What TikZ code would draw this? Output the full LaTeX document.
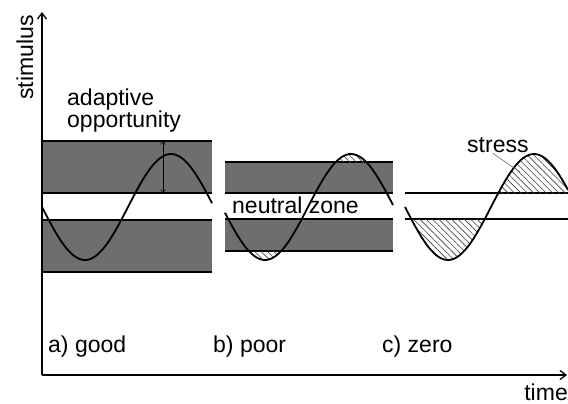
\documentclass[tikz,border=0pt]{standalone}
\usepackage{fontspec}
\setmainfont{Liberation Sans}
\usetikzlibrary{arrows.meta,patterns.meta}
\newcommand\lbl{\fontsize{23pt}{19pt}\selectfont}
% one sine period of 172 units, started at #1, drawn from #2 to #3
\newcommand\sinewave[3]{plot[domain=#2:#3] (\x,{207+53*sin(2.093*(\x-#1))})}

\begin{document}
\begin{tikzpicture}[x=1pt, y=-1pt, >={Straight Barb[length=6pt,width=9pt]},
  every node/.style={font=\lbl, inner sep=0pt},
  band/.style={fill=black!57},
  edge/.style={line width=1.3pt},
  axis/.style={line width=1.3pt},
  wave/.style={line width=1.8pt, smooth, samples=70},
  hatch/.style={pattern={Lines[angle=-45,distance=4.5pt,line width=0.6pt]}, pattern color=black!75}]
  \useasboundingbox[fill=white] (0,0) rectangle (568,404);

  % a) good
  \fill[band] (42,141) rectangle (212,193);
  \fill[band] (42,220) rectangle (212,272);
  \draw[edge] (42,141) -- (212,141) (42,193) -- (212,193) (42,220) -- (212,220) (42,272) -- (212,272);

  % b) poor
  \fill[band] (225,162) rectangle (393,193);
  \fill[band] (225,219) rectangle (393,251);
  \draw[edge] (225,162) -- (393,162) (225,193) -- (393,193) (225,219) -- (393,219) (225,251) -- (393,251);

  % c) zero
  \draw[edge] (405,193) -- (568,193) (405,219) -- (568,219);

  % hatched parts outside the band
  \foreach \xs/\xa/\xb/\yt/\yb in {222/225/393/162/251, 405/405/568/193/219} {
    \begin{scope}
      \clip (\xa,0) rectangle (\xb,\yt);
      \fill[hatch] \sinewave{\xs}{\xa}{\xb} -- (\xb,207) -- (\xa,207) -- cycle;
    \end{scope}
    \begin{scope}
      \clip (\xa,\yb) rectangle (\xb,404);
      \fill[hatch] \sinewave{\xs}{\xa}{\xb} -- (\xb,207) -- (\xa,207) -- cycle;
    \end{scope}
  }

  \draw[wave] \sinewave{42}{42}{212};
  \draw[wave] \sinewave{222}{225}{393};
  \draw[wave] \sinewave{405}{405}{568};

  % axes
  \coordinate (origin) at (42,375);
  \coordinate (ytip) at (42,12);
  \coordinate (xtip) at (567,375);
  \draw[axis,->] (origin) -- (ytip);
  \draw[axis,->] (origin) -- (xtip);
  \node[rotate=90, anchor=base west] (stimulus) at (33,100) {stimulus};
  \node[anchor=base east] (time) at (568,400) {time};

  % labels
  \node[anchor=base west, align=left] (adapt) at (67,128) {adaptive\\opportunity};
  \coordinate (opptop) at (163,141);
  \coordinate (oppbot) at (163,193);
  \draw[{Straight Barb[length=3pt,width=5pt]}-{Straight Barb[length=3pt,width=5pt]}, line width=0.6pt] (opptop) -- (oppbot);
  \node[anchor=base west] (neutral) at (232,213) {neutral zone};
  \node[anchor=base west] (stress) at (467,152) {stress};
  \coordinate (stresspt) at (520,172);
  \draw[black!60, line width=0.6pt] ([xshift=-5pt,yshift=-1pt]stress.south) -- (stresspt);

  \node[anchor=base west] (good) at (48,352) {a) good};
  \node[anchor=base west] (poor) at (213,352) {b) poor};
  \node[anchor=base west] (zero) at (382,352) {c) zero};
\end{tikzpicture}
\end{document}
